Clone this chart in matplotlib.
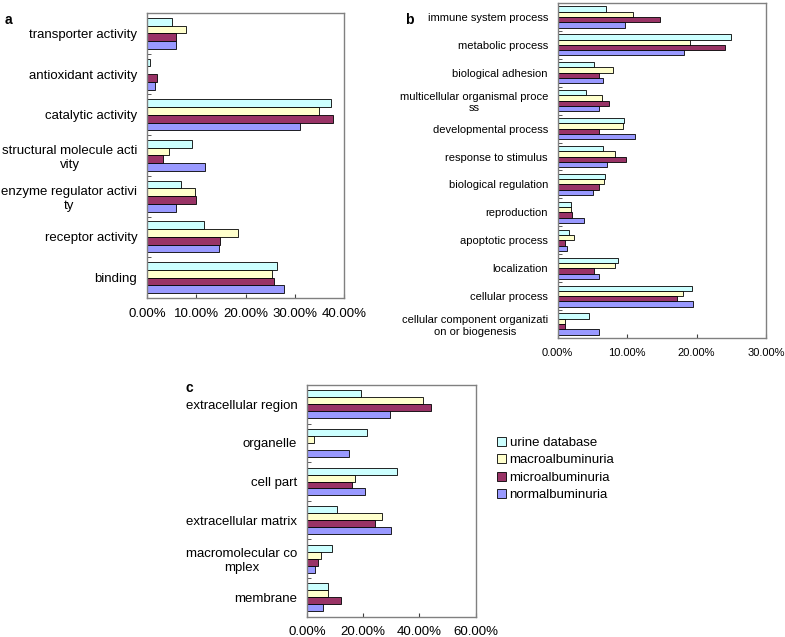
import matplotlib.pyplot as plt
import numpy as np
from matplotlib.patches import Patch
from matplotlib.ticker import FuncFormatter

plt.rcParams['font.family'] = 'Liberation Sans'

series = ['urine database', 'macroalbuminuria', 'microalbuminuria', 'normalbuminuria']
colors = ['#ccffff', '#ffffcc', '#993366', '#9999ff']

# panel a - molecular function
a_labels = ['transporter activity', 'antioxidant activity', 'catalytic activity',
            'structural molecule acti\nvity', 'enzyme regulator activi\nty',
            'receptor activity', 'binding']
a_urine = [5.1, 0.6, 37.4, 9.2, 7.0, 11.5, 26.4]
a_macro = [8.0, 0.0, 34.9, 4.4, 9.7, 18.4, 25.3]
a_micro = [5.9, 2.0, 37.7, 3.2, 10.0, 14.9, 25.7]
a_normal = [5.95, 1.55, 31.0, 11.8, 5.9, 14.7, 27.9]

# panel b - biological process
b_labels = ['immune system process', 'metabolic process', 'biological adhesion',
            'multicellular organismal proce\nss', 'developmental process',
            'response to stimulus', 'biological regulation', 'reproduction',
            'apoptotic process', 'localization', 'cellular process',
            'cellular component organizati\non or biogenesis']
b_urine = [6.9, 25.0, 5.3, 4.1, 9.5, 6.6, 6.8, 1.9, 1.7, 8.7, 19.3, 4.5]
b_macro = [10.9, 19.1, 7.9, 6.4, 9.4, 8.2, 6.7, 1.9, 2.3, 8.2, 18.1, 1.1]
b_micro = [14.8, 24.1, 5.9, 7.4, 5.9, 9.9, 5.9, 2.0, 1.0, 5.3, 17.2, 1.0]
b_normal = [9.75, 18.2, 6.6, 5.9, 11.1, 7.1, 5.1, 3.8, 1.3, 5.9, 19.5, 5.9]

# panel c - cellular component
c_labels = ['extracellular region', 'organelle', 'cell part', 'extracellular matrix',
            'macromolecular co\nmplex', 'membrane']
c_urine = [19.1, 21.5, 32.1, 10.7, 9.0, 7.5]
c_macro = [41.4, 2.5, 17.2, 26.8, 5.1, 7.5]
c_micro = [44.0, 0.0, 15.9, 24.1, 4.0, 12.0]
c_normal = [29.4, 14.8, 20.8, 29.8, 3.0, 5.8]


def draw(ax, labels, groups, xmax, step, fs, tfs, h=0.19):
    n = len(labels)
    y = np.arange(n)
    for i, vals in enumerate(groups):
        ax.barh(y - 1.5 * h + i * h, vals, height=h, color=colors[i],
                edgecolor='black', linewidth=0.6)
    ax.set_ylim(n - 0.5, -0.5)
    ax.set_xlim(0, xmax)
    ax.set_yticks(y)
    ax.set_yticklabels(labels, fontsize=fs)
    for t in ax.get_yticklabels():
        t.set_multialignment('center')
    ax.set_yticks(np.arange(n + 1) - 0.5, minor=True)
    ax.tick_params(axis='y', which='major', length=0, pad=7)
    ax.tick_params(axis='y', which='minor', length=3, direction='in', color='#404040')
    ax.set_xticks(np.arange(0, xmax + 0.1, step))
    ax.xaxis.set_major_formatter(FuncFormatter(lambda v, p: '%.2f%%' % v))
    ax.tick_params(axis='x', length=3, direction='in', labelsize=tfs, pad=7, color='#404040')
    for s in ax.spines.values():
        s.set_color('#808080')
        s.set_linewidth(1)


fig = plt.figure(figsize=(7.85, 6.37), dpi=100)

ax_a = fig.add_axes([0.1873, 0.5322, 0.2509, 0.4474])
draw(ax_a, a_labels, [a_urine, a_macro, a_micro, a_normal], 40, 10, 9.5, 9.5)

ax_b = fig.add_axes([0.7104, 0.4694, 0.2654, 0.5259])
draw(ax_b, b_labels, [b_urine, b_macro, b_micro, b_normal], 30, 10, 8, 8)

ax_c = fig.add_axes([0.3911, 0.0319, 0.2149, 0.3637])
draw(ax_c, c_labels, [c_urine, c_macro, c_micro, c_normal], 60, 20, 9.5, 9.5, h=0.18)

fig.text(5 / 785, 1 - 20 / 637, 'a', fontsize=10, fontweight='bold', va='center')
fig.text(405 / 785, 1 - 20 / 637, 'b', fontsize=10, fontweight='bold', va='center')
fig.text(186 / 785, 1 - 388 / 637, 'c', fontsize=10, fontweight='bold', va='center')

handles = [Patch(facecolor=c, edgecolor='black', linewidth=0.6) for c in colors]
fig.legend(handles, series, loc='upper left', bbox_to_anchor=(497 / 785, 1 - 437 / 637),
           frameon=False, fontsize=9.5, handlelength=0.7, handleheight=0.7,
           handletextpad=0.25, labelspacing=0.38, borderaxespad=0, borderpad=0)

fig.savefig('out.png', dpi=100)
